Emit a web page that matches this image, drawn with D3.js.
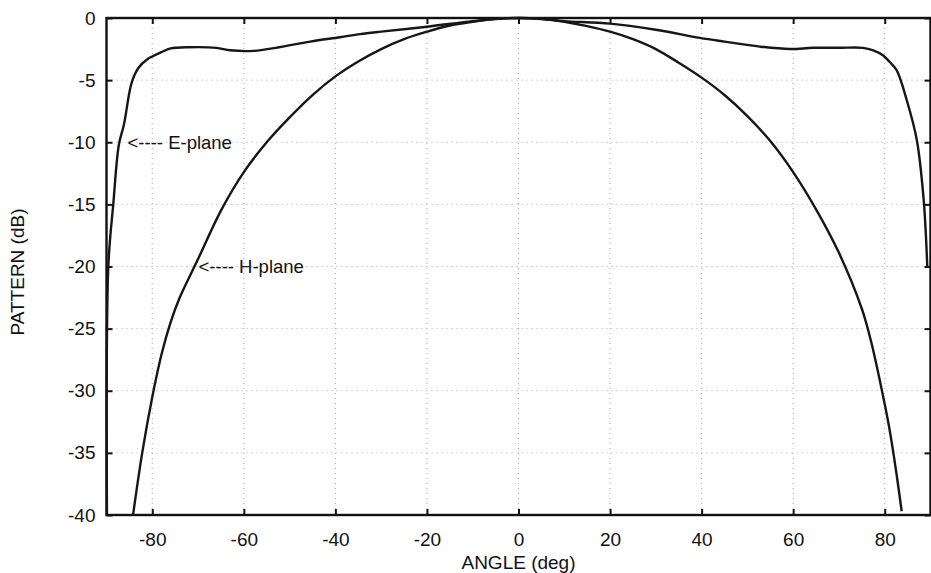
<!DOCTYPE html>
<html>
<head>
<meta charset="utf-8">
<script src="https://cdn.jsdelivr.net/npm/d3@7"></script>
<style>
  html, body { margin: 0; padding: 0; background: #fff; }
  svg { display: block; }
</style>
</head>
<body>
<svg id="chart" width="931" height="573"></svg>
<script>
// E-plane pattern (angle deg, dB)
const eAngles = [-89.9, -89.6, -88.5, -87.3, -86.2, -84.5, -83, -81, -80, -78, -76, -72, -66, -63, -58, -53, -45.5, -39, -34.6, -30, -20, -10, -5, 0,
  5, 10, 20, 30, 39.6, 45, 52.7, 59.3, 64.3, 70, 75.2, 77.5, 79.6, 81, 82.6, 84.8, 87, 88.5, 89.3];
const eValues = [-40, -20, -14.9, -10.2, -8.6, -5.2, -4.0, -3.3, -3.1, -2.75, -2.45, -2.35, -2.4, -2.6, -2.65, -2.4, -1.9, -1.55, -1.3, -1.1, -0.7, -0.25, -0.08, 0,
  -0.08, -0.25, -0.45, -0.95, -1.6, -1.9, -2.3, -2.5, -2.4, -2.4, -2.4, -2.6, -3.0, -3.5, -4.2, -6.6, -9.8, -14.6, -20];

// H-plane pattern (angle deg, dB)
const hAngles = [-84.2, -82.2, -80, -78, -76, -74, -70, -65, -60, -55, -50, -45, -40, -35, -30, -25, -20, -15, -10, -5, 0,
  5, 10, 15, 20, 25, 30, 35, 40, 45, 50, 55, 60, 65, 70, 75, 77, 79, 81, 82.5, 83.7];
const hValues = [-40, -35, -30.5, -27.1, -24.5, -22.5, -19.4, -15.5, -12.4, -10.0, -8.0, -6.2, -4.7, -3.5, -2.5, -1.7, -1.1, -0.6, -0.3, -0.07, 0,
  -0.07, -0.3, -0.65, -1.1, -1.7, -2.5, -3.6, -4.8, -6.2, -7.9, -9.9, -12.4, -15.4, -18.9, -23.4, -26.0, -29.3, -33.0, -36.5, -39.7];

const xTicks = [-80, -60, -40, -20, 0, 20, 40, 60, 80];
const yTicks = [0, -5, -10, -15, -20, -25, -30, -35, -40];

const labels = [
  { text: "<---- E-plane", angle: -85.4, db: -10 },
  { text: "<---- H-plane", angle: -69.9, db: -20 }
];

const W = 931, H = 573;
const m = { top: 18, right: 0.5, bottom: 58, left: 106.5 };
const svg = d3.select("#chart");
const font = "Arial, 'Liberation Sans', sans-serif";

const x = d3.scaleLinear().domain([-90, 90]).range([m.left, W - m.right]);
const y = d3.scaleLinear().domain([-40, 0]).range([H - m.bottom, m.top]);

// grid
const grid = svg.append("g").attr("stroke", "#aaa").attr("stroke-width", 1).attr("stroke-dasharray", "1,4");
grid.selectAll(".gx").data(xTicks).join("line")
  .attr("x1", d => x(d)).attr("x2", d => x(d))
  .attr("y1", y(0)).attr("y2", y(-40));
grid.selectAll(".gy").data(yTicks.filter(d => d !== 0 && d !== -40)).join("line")
  .attr("y1", d => y(d)).attr("y2", d => y(d))
  .attr("x1", x(-90)).attr("x2", x(90));

// axes (ticks inward on all four sides), plain hyphen minus in labels
const tickLen = 6;
const fmt = d => String(d);
const axBottom = svg.append("g").attr("transform", `translate(0,${y(-40)})`)
  .call(d3.axisBottom(x).tickValues(xTicks).tickFormat(fmt).tickSizeInner(-tickLen).tickSizeOuter(0).tickPadding(18));
const axTop = svg.append("g").attr("transform", `translate(0,${y(0)})`)
  .call(d3.axisTop(x).tickValues(xTicks).tickSizeInner(-tickLen).tickSizeOuter(0).tickFormat(""));
const axLeft = svg.append("g").attr("transform", `translate(${x(-90)},0)`)
  .call(d3.axisLeft(y).tickValues(yTicks).tickFormat(fmt).tickSizeInner(-tickLen).tickSizeOuter(0).tickPadding(11));
const axRight = svg.append("g").attr("transform", `translate(${x(90)},0)`)
  .call(d3.axisRight(y).tickValues(yTicks).tickSizeInner(-tickLen).tickSizeOuter(0).tickFormat(""));

[axBottom, axTop, axLeft, axRight].forEach(a => {
  a.select(".domain").remove();
  a.selectAll(".tick line").attr("stroke", "#111").attr("stroke-width", 2);
  a.selectAll("text").style("font-family", font).style("font-size", "19px").attr("fill", "#111");
});

// frame
svg.append("rect")
  .attr("x", x(-90)).attr("y", y(0))
  .attr("width", x(90) - x(-90)).attr("height", y(-40) - y(0))
  .attr("fill", "none").attr("stroke", "#111").attr("stroke-width", 2.4);

// curves
const curve = d3.line().x(d => x(d[0])).y(d => y(d[1])).curve(d3.curveCatmullRom.alpha(0.5));
const eData = d3.zip(eAngles, eValues);
const hData = d3.zip(hAngles, hValues);

[eData, hData].forEach(data => {
  svg.append("path").datum(data)
    .attr("d", curve)
    .attr("fill", "none").attr("stroke", "#161616").attr("stroke-width", 2.4).attr("stroke-linejoin", "round");
});

// annotations
svg.selectAll(".lbl").data(labels).join("text")
  .attr("x", d => x(d.angle)).attr("y", d => y(d.db))
  .attr("dy", "0.35em")
  .style("font-family", font).style("font-size", "18.5px").attr("fill", "#111")
  .text(d => d.text);

// axis titles
svg.append("text")
  .attr("x", x(0)).attr("y", H - 4)
  .attr("text-anchor", "middle")
  .style("font-family", font).style("font-size", "19px").attr("fill", "#111")
  .text("ANGLE (deg)");
svg.append("text")
  .attr("transform", `translate(24,272) rotate(-90)`)
  .attr("text-anchor", "middle")
  .style("font-family", font).style("font-size", "19px").attr("fill", "#111")
  .text("PATTERN (dB)");
</script>
</body>
</html>
